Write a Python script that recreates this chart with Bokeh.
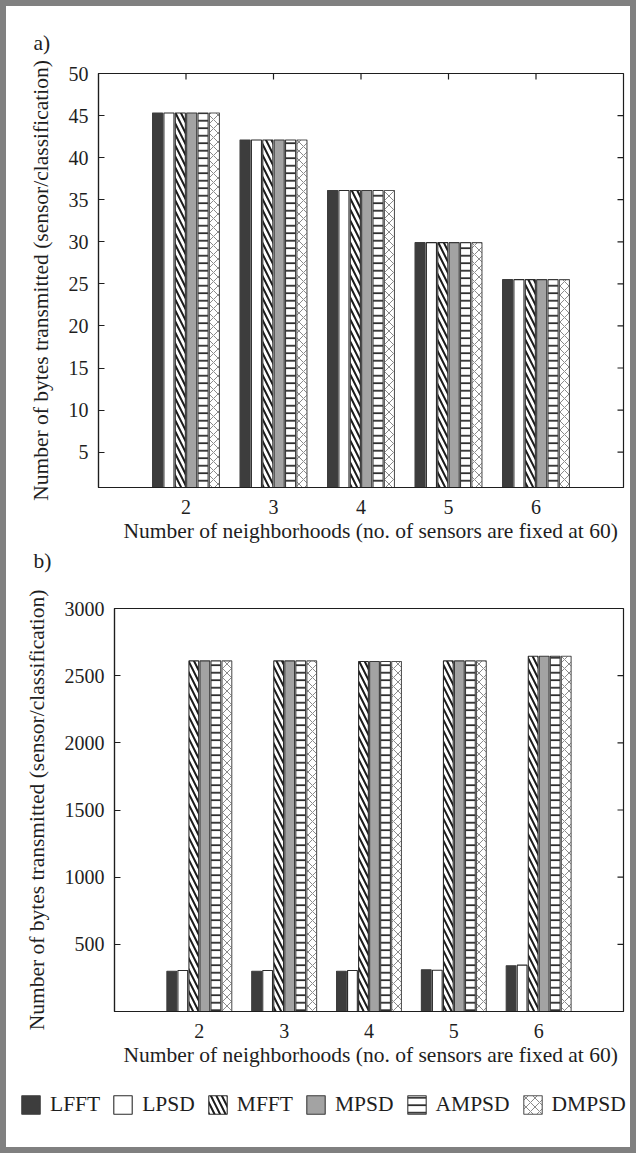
import numpy as np
from bokeh.plotting import figure
from bokeh.models import (Range1d, FixedTicker, Legend, LegendItem, Label, Title,
                          ColumnDataSource)
from bokeh.transform import dodge
from bokeh.layouts import column
from bokeh.embed import file_html
from bokeh.resources import INLINE

# ---------------- data ----------------
neighborhoods = [2, 3, 4, 5, 6]
methods = ["LFFT", "LPSD", "MFFT", "MPSD", "AMPSD", "DMPSD"]

# panel a) bytes transmitted per sensor per classification
a_lfft = [45.3, 42.1, 36.1, 29.9, 25.5]
a_lpsd = [45.3, 42.1, 36.1, 29.9, 25.5]
a_mfft = [45.3, 42.1, 36.1, 29.9, 25.5]
a_mpsd = [45.3, 42.1, 36.1, 29.9, 25.5]
a_ampsd = [45.3, 42.1, 36.1, 29.9, 25.5]
a_dmpsd = [45.3, 42.1, 36.1, 29.9, 25.5]

# panel b)
b_lfft = [300, 300, 300, 310, 340]
b_lpsd = [305, 305, 305, 307, 345]
b_mfft = [2610, 2610, 2605, 2610, 2645]
b_mpsd = [2610, 2610, 2605, 2610, 2645]
b_ampsd = [2610, 2610, 2605, 2610, 2645]
b_dmpsd = [2610, 2610, 2605, 2610, 2645]

a_yticks = [5, 10, 15, 20, 25, 30, 35, 40, 45, 50]
b_yticks = [500, 1000, 1500, 2000, 2500, 3000]

x_label = "Number of neighborhoods (no. of sensors are fixed at 60)"
y_label = "Number of bytes transmitted (sensor/classification)"

# ---------------- styles ----------------
FONT = "Liberation Serif"
INK = "#1e1e1e"
STYLES = {
    "LFFT": dict(fill_color="#3d3d3d", line_color="#3d3d3d"),
    "LPSD": dict(fill_color="white", line_color="#2b2b2b"),
    "MFFT": dict(fill_color="white", line_color="#2b2b2b", hatch_pattern="\\",
                 hatch_color="#1a1a1a", hatch_scale=11, hatch_weight=2),
    "MPSD": dict(fill_color="#a3a3a3", line_color="#3a3a3a"),
    "AMPSD": dict(fill_color="white", line_color="#3a3a3a", hatch_pattern="-",
                  hatch_color="#2a2a2a", hatch_scale=7.5, hatch_weight=1.8),
    "DMPSD": dict(fill_color="white", line_color="#555555", hatch_pattern="x",
                  hatch_color="#8a8a8a", hatch_scale=9, hatch_weight=1),
}
STEP = 0.13
BAR_W = 0.115
FIG_W = 624


def style_axis(ax):
    ax.axis_line_color = INK
    ax.axis_line_width = 1.2
    ax.major_tick_line_color = INK
    ax.major_tick_line_width = 1.2
    ax.major_tick_in = 6
    ax.major_tick_out = 0
    ax.minor_tick_line_color = None
    ax.major_label_text_font = FONT
    ax.major_label_text_color = INK
    ax.major_label_text_font_size = "20px"
    ax.major_label_standoff = 10
    ax.axis_label_text_font = FONT
    ax.axis_label_text_font_size = "21.5px"
    ax.axis_label_text_font_style = "normal"
    ax.axis_label_text_color = INK


def strip(height):
    s = figure(width=FIG_W, height=height, x_range=Range1d(0, 1),
               y_range=Range1d(0, 1), output_backend="svg",
               toolbar_location=None, frame_align=False, min_border=0,
               min_border_left=0, min_border_right=0, min_border_top=0,
               min_border_bottom=0)
    s.axis.visible = False
    s.grid.visible = False
    s.outline_line_color = None
    return s


def tag_strip(text, height, x, y_from_bottom):
    s = strip(height)
    s.add_layout(Label(x=x, y=y_from_bottom, x_units="screen", y_units="screen",
                       text=text, text_font=FONT, text_font_size="21.5px",
                       text_color=INK, text_baseline="middle", text_align="left"))
    return s


def make_chart(series, yticks, y_range, height, borders, xtick_top,
               y_label_standoff, xlab_offset):
    top, left, bottom = borders
    p = figure(width=FIG_W, height=height, x_range=Range1d(1, 7), y_range=y_range,
               output_backend="svg", toolbar_location=None, frame_align=False,
               min_border_left=left, min_border_right=7,
               min_border_top=top, min_border_bottom=bottom)
    p.xgrid.visible = False
    p.ygrid.visible = False
    p.outline_line_color = INK
    p.outline_line_width = 1.2
    p.background_fill_color = "white"
    p.border_fill_color = "white"

    data = dict(x=neighborhoods)
    for m, vals in zip(methods, series):
        data[m] = vals
    src = ColumnDataSource(data)
    for i, m in enumerate(methods):
        off = (i - 2.5) * STEP
        p.vbar(x=dodge("x", off, range=p.x_range), top=m, bottom=0,
               width=BAR_W, source=src, line_width=1.1, **STYLES[m])

    xa = p.xaxis[0]
    xa.ticker = FixedTicker(ticks=neighborhoods)
    style_axis(xa)
    xa.major_tick_in = 0
    xa.major_label_standoff = 12
    # x-axis caption, shifted right of the frame centre as in the original
    p.add_layout(Title(text=x_label, align="left", offset=xlab_offset,
                       standoff=0, text_font=FONT, text_font_size="21.5px",
                       text_font_style="normal", text_color=INK), "below")

    ya = p.yaxis[0]
    ya.ticker = FixedTicker(ticks=yticks)
    ya.axis_label = y_label
    style_axis(ya)
    ya.axis_label_standoff = y_label_standoff

    # inward tick marks on the right edge (and top edge for panel a)
    p.ray(x=[p.x_range.end] * len(yticks), y=yticks, length=6,
          length_units="screen", angle=np.pi, line_color=INK, line_width=1.2)
    if xtick_top:
        p.ray(x=neighborhoods, y=[y_range.end] * len(neighborhoods), length=6,
              length_units="screen", angle=-np.pi / 2, line_color=INK,
              line_width=1.2)
    return p, src


# page rows (inside the 6px grey frame):
#   tag a 6..56, chart a 56..549, tag b 549..578, chart b 578..1075, legend 1075..1147
tag_a = tag_strip("a)", 50, 27, 14)
p1, _ = make_chart([a_lfft, a_lpsd, a_mfft, a_mpsd, a_ampsd, a_dmpsd],
                   a_yticks, Range1d(0.8, 50), 493, (17, 92, 62), True, 13, 25)
tag_b = tag_strip("b)", 29, 27, 18)
p2, src_b = make_chart([b_lfft, b_lpsd, b_mfft, b_mpsd, b_ampsd, b_dmpsd],
                       b_yticks, Range1d(0, 3000), 497, (30, 108, 64), False, 13, 9)

# legend strip
p3 = strip(72)
items = []
for i, m in enumerate(methods):
    r = p3.vbar(x="x", top=m, bottom=0, width=BAR_W, source=src_b,
                line_width=1.1, visible=False, **STYLES[m])
    items.append(LegendItem(label=m, renderers=[r]))
legend = Legend(items=items, orientation="horizontal", location=(13, 30),
                glyph_width=23, glyph_height=23, label_standoff=8, spacing=11,
                padding=0, margin=0, border_line_color=None,
                background_fill_alpha=0, label_text_font=FONT,
                label_text_font_size="21.5px", label_text_color=INK,
                click_policy="none")
p3.add_layout(legend, "center")

layout = column(tag_a, p1, tag_b, p2, p3, spacing=0,
                styles={"border": "6px solid #808080", "background-color": "white"})
open("out.html", "w").write(file_html(layout, INLINE))
